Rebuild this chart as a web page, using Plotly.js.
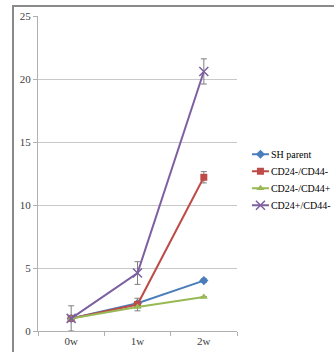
<!DOCTYPE html>
<html><head><meta charset="utf-8">
<script src="https://cdn.plot.ly/plotly-3.0.1.min.js"></script>
<style>
html,body{margin:0;padding:0;background:#fff;overflow:hidden;}
#frame{position:absolute;left:12px;top:5px;width:330px;height:360px;border-top:2px solid #8a8a8a;border-left:2px solid #8a8a8a;}
#chart{position:absolute;left:0;top:0;width:420px;height:352px;}
</style></head>
<body>
<div id="frame"></div>
<div id="chart"></div>
<script>
const categories = ['0w', '1w', '2w'];
const seriesNames = ['SH parent', 'CD24-/CD44-', 'CD24-/CD44+', 'CD24+/CD44-'];
const shParent = [1.0, 2.2, 4.0];
const cd24nCd44n = [1.0, 2.1, 12.2];
const cd24nCd44p = [1.0, 1.9, 2.7];
const cd24pCd44n = [1.0, 4.6, 20.6];
const errSh = [0, 0, 0.15];
const errNN = [0, 0.5, 0.45];
const errNP = [0, 0, 0];
const errPN = [1.0, 0.9, 1.0];
const yTicks = [0, 5, 10, 15, 20, 25];

const FONT = '"Liberation Serif", "DejaVu Serif", serif';
const colors = ['#4a7ebb', '#be4b48', '#98b954', '#7d60a0'];
const symbols = ['diamond', 'square', 'triangle-up', 'x-thin'];
const values = [shParent, cd24nCd44n, cd24nCd44p, cd24pCd44n];
const errs = [errSh, errNN, errNP, errPN];

const traces = values.map((v, i) => ({
  x: categories, y: v, name: seriesNames[i], type: 'scatter', mode: 'lines+markers',
  line: {color: colors[i], width: 2},
  marker: {symbol: symbols[i], color: colors[i], size: i === 3 ? 9 : 7,
           line: {color: colors[i], width: i === 3 ? 1.5 : 0}},
  error_y: {type: 'data', array: errs[i], visible: true, color: '#7f7f7f', thickness: 1, width: 3}
}));

const layout = {
  width: 420, height: 352,
  margin: {l: 38, r: 183, t: 16, b: 21},
  paper_bgcolor: 'rgba(0,0,0,0)', plot_bgcolor: 'rgba(0,0,0,0)',
  font: {family: FONT, size: 11, color: '#404040'},
  showlegend: true,
  legend: {x: 1.05, y: 0.607, xanchor: 'left', yanchor: 'top',
           font: {family: FONT, size: 10, color: '#000'},
           itemwidth: 30, tracegroupgap: 0, bgcolor: 'rgba(0,0,0,0)'},
  xaxis: {type: 'category', range: [-0.5, 2.5],
          showline: true, linecolor: '#b0b0b0', linewidth: 1,
          ticks: 'outside', tickson: 'boundaries', ticklen: 4, tickcolor: '#b0b0b0',
          showgrid: false, zeroline: false, fixedrange: true},
  yaxis: {range: [0, 25], tickvals: yTicks, showline: true, linecolor: '#b0b0b0', linewidth: 1,
          ticks: 'outside', ticklen: 4, tickcolor: '#b0b0b0',
          showgrid: true, gridcolor: '#c8c8c8', gridwidth: 1, zeroline: false}
};
Plotly.newPlot('chart', traces, layout, {displayModeBar: false, staticPlot: true}).then(gd => {
  // compact the legend entries (shorter swatch, tighter spacing) like the original
  const items = gd.querySelectorAll('.legend .traces');
  let x0 = 0, y0 = 0;
  items.forEach((g, i) => {
    const m = /translate\(\s*([-\d.e]+)[ ,]+([-\d.e]+)\s*\)/.exec(g.getAttribute('transform') || '');
    if (i === 0 && m) { x0 = parseFloat(m[1]); y0 = parseFloat(m[2]); }
    g.setAttribute('transform', 'translate(' + x0 + ',' + (y0 + 17 * i) + ')');
    g.querySelectorAll('.legendlines path').forEach(p => p.setAttribute('d', 'M5,0h17'));
    g.querySelectorAll('.legendpoints path').forEach(p => p.setAttribute('transform', 'translate(13.5,0)'));
    const t = g.querySelector('.legendtext');
    if (t) t.setAttribute('x', 24);
  });
});
</script>
</body></html>
